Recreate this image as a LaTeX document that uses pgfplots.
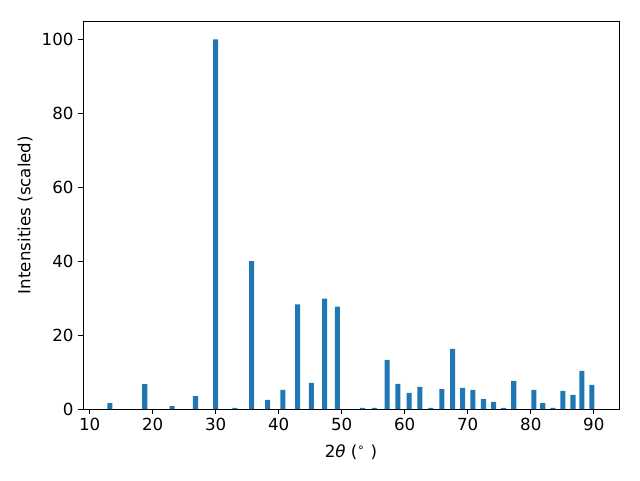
\documentclass[border=0pt]{standalone}
\usepackage{pgfplots}
\pgfplotsset{compat=1.18}
\usepackage{fontspec}
\setmainfont{DejaVu Sans}
\definecolor{mplblue}{HTML}{1F77B4}
\begin{document}
\begin{tikzpicture}
\begin{axis}[
  scale only axis,
  width=402pt, height=291pt,
  xmin=8.95, xmax=94.0,
  ymin=0, ymax=105,
  xtick={10,20,...,90},
  ytick={0,20,...,100},
  tick align=outside,
  major tick length=3.6pt,
  xtick pos=bottom, ytick pos=left,
  tick style={black, line width=0.6pt},
  axis line style={line width=0.6pt},
  /pgf/number format/assume math mode=true,
  tick label style={font=\fontsize{12.5}{14}\selectfont},
  label style={font=\fontsize{12.5}{14}\selectfont},
  xlabel={2\textit{θ} (\textsuperscript{∘} )},
  ylabel={Intensities (scaled)},
  xlabel style={yshift=-3pt},
  ybar, bar width=0.8, bar shift=0pt,
]
\addplot[fill=mplblue, draw=none] coordinates {
(13.2,1.6) (18.75,6.7) (23.1,0.8) (26.8,3.5) (30.0,100) (33.05,0.3)
(35.7,40.0) (38.25,2.45) (40.65,5.2) (43.0,28.3) (45.2,7.1) (47.3,29.9)
(49.3,27.7) (53.3,0.3) (55.2,0.3) (57.2,13.3) (58.9,6.8) (60.7,4.35)
(62.4,6.0) (64.15,0.3) (65.9,5.4) (67.6,16.3) (69.2,5.7) (70.8,5.2)
(72.5,2.7) (74.1,1.9) (75.7,0.3) (77.3,7.6) (80.5,5.2) (81.9,1.6)
(83.5,0.3) (85.1,4.9) (86.7,3.8) (88.1,10.3) (89.7,6.5)
};
\coordinate (sw) at (rel axis cs:0,0);
\coordinate (ne) at (rel axis cs:1,1);
\end{axis}
\pgfresetboundingbox
\path[use as bounding box] ([xshift=-62.25pt,yshift=-53.25pt]sw) rectangle ([xshift=15.75pt,yshift=15.75pt]ne);
\end{tikzpicture}
\end{document}
